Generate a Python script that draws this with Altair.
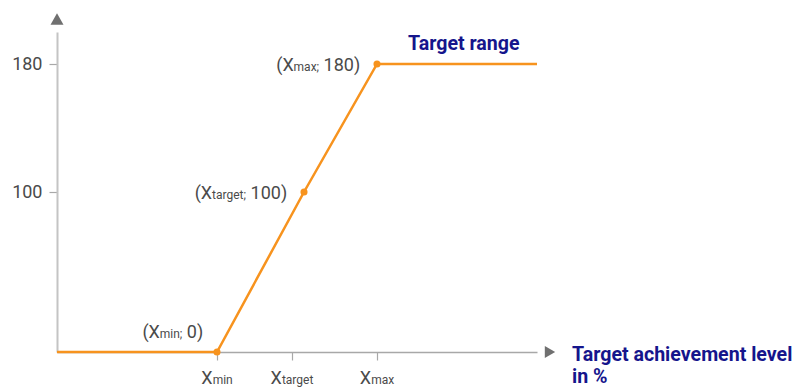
import altair as alt
import pandas as pd

# ---- data ----
line_x = [0, 160, 247, 320, 480]
line_y = [0, 0, 100, 180, 180]
marker_x = [160, 247, 320]
marker_y = [0, 100, 180]
marker_sub = ["min", "target", "max"]
marker_val = ["0", "100", "180"]
tick_x = [160, 235, 320]
tick_sub = ["min", "target", "max"]
y_ticks = [100, 180]
x_domain = [0, 480]
y_domain = [0, 200]
range_label = "Target range"
axis_title = ["Target achievement level", "in %"]

ORANGE = "#f7931e"
GRAY_TXT = "#4a4a4a"
NAVY = "#15158c"
FONT = "Roboto"
BIG, SMALL, TITLE = 18, 12, 19.6

# approximate Roboto advance widths (units per em = 2048)
ADV = {"(": 684, ")": 696, "X": 1287, ";": 437, " ": 507, "m": 1791, "i": 496,
       "n": 1130, "t": 669, "a": 1114, "r": 693, "g": 1148, "e": 1085, "x": 1013}
for d in "0123456789":
    ADV[d] = 1150


def width(s, size):
    return sum(ADV.get(c, 1100) for c in s) * size / 2048.0


xs = alt.Scale(domain=x_domain)
ys = alt.Scale(domain=y_domain)

line_df = pd.DataFrame({"x": line_x, "y": line_y})
mark_df = pd.DataFrame({"x": marker_x, "y": marker_y})

base_x = alt.X("x:Q", scale=xs, axis=alt.Axis(values=tick_x, labels=False, title=None, grid=False,
                                              domainColor="#a8a8a8", domainWidth=1.5,
                                              tickColor="#a8a8a8", tickSize=8, tickWidth=1.2))
base_y = alt.Y("y:Q", scale=ys, axis=alt.Axis(values=y_ticks, title=None, grid=False,
                                              domainColor="#c4c4c4", domainWidth=2,
                                              tickColor="#a8a8a8", tickSize=8, tickWidth=1.2,
                                              labelFont=FONT, labelFontSize=BIG, labelColor=GRAY_TXT,
                                              labelPadding=7))

line = alt.Chart(line_df).mark_line(color=ORANGE, strokeWidth=2.5).encode(x=base_x, y=base_y)
points = alt.Chart(mark_df).mark_circle(color=ORANGE, size=50, opacity=1).encode(
    x=alt.X("x:Q", scale=xs), y=alt.Y("y:Q", scale=ys))

layers = [line, points]

# arrowheads at axis ends
arrow_up = alt.Chart(pd.DataFrame({"x": [x_domain[0]], "y": [y_domain[1]]})).mark_point(
    shape="triangle-up", filled=True, color="#707070", size=169, opacity=1, strokeWidth=0).encode(
    x=alt.X("x:Q", scale=xs), y=alt.Y("y:Q", scale=ys), yOffset=alt.value(-13))
arrow_right = alt.Chart(pd.DataFrame({"x": [x_domain[1]], "y": [y_domain[0]]})).mark_point(
    shape="triangle-right", filled=True, color="#707070", size=144, opacity=1, strokeWidth=0).encode(
    x=alt.X("x:Q", scale=xs), y=alt.Y("y:Q", scale=ys), xOffset=alt.value(13))
layers += [arrow_up, arrow_right]


def piece(xv, yv, text, size, dx, dy, color=GRAY_TXT, weight="normal", align="left"):
    return alt.Chart(pd.DataFrame({"x": [xv], "y": [yv], "t": [text]})).mark_text(
        font=FONT, fontSize=size, color=color, fontWeight=weight, align=align,
        baseline="alphabetic", dx=dx, dy=dy).encode(
        x=alt.X("x:Q", scale=xs), y=alt.Y("y:Q", scale=ys), text="t:N")


# point annotations "(X_sub; value)"
ann_style = [(-14, -14), (-17, 7), (-17, 7)]  # (right edge offset, baseline offset) in px
for xv, yv, sub, val, (r_off, b_off) in zip(marker_x, marker_y, marker_sub, marker_val, ann_style):
    p1, p2, p3 = "(X", sub + ";", val + ")"
    gap = width(" ", BIG)
    w1, w2, w3 = width(p1, BIG), width(p2, SMALL), width(p3, BIG)
    left = r_off - (w1 + w2 + gap + w3)
    layers.append(piece(xv, yv, p1, BIG, left, b_off))
    layers.append(piece(xv, yv, p2, SMALL, left + w1, b_off))
    layers.append(piece(xv, yv, p3, BIG, left + w1 + w2 + gap, b_off))

# tick labels "X_sub"
for xv, sub in zip(tick_x, tick_sub):
    w1, w2 = width("X", BIG), width(sub, SMALL)
    left = -(w1 + w2) / 2
    layers.append(piece(xv, y_domain[0], "X", BIG, left, 32))
    layers.append(piece(xv, y_domain[0], sub, SMALL, left + w1, 32))

# "Target range" label near the plateau
layers.append(piece(marker_x[2], marker_y[2], range_label, TITLE, 31, -14, color=NAVY, weight="bold"))

# x-axis title at the end of the axis
title = alt.Chart(pd.DataFrame({"x": [x_domain[1]], "y": [y_domain[0]], "t": [axis_title]})).mark_text(
    font=FONT, fontSize=TITLE, color=NAVY, fontWeight="bold", align="left", baseline="alphabetic",
    dx=35, dy=9, lineHeight=22).encode(
    x=alt.X("x:Q", scale=xs), y=alt.Y("y:Q", scale=ys), text="t")
layers.append(title)

chart = alt.layer(*layers).properties(
    width=480, height=320,
    background="white",
    autosize=alt.AutoSizeParams(type="none"),
    padding={"left": 57, "top": 32, "right": 261, "bottom": 38},
).configure_view(stroke=None, strokeWidth=0)

chart.save("out.html", embed_options={"renderer": "svg", "actions": False})
